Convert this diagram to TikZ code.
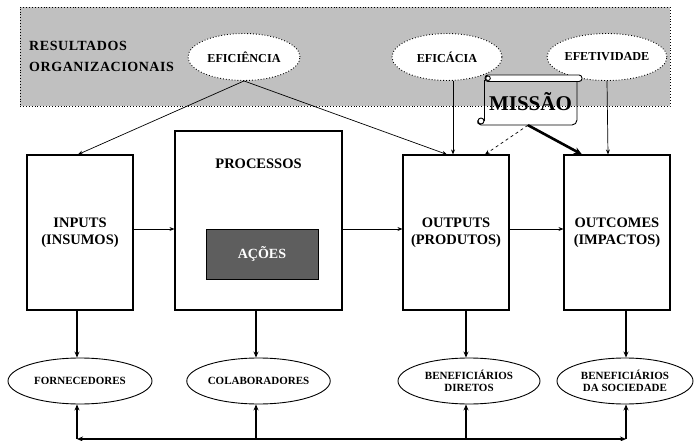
\documentclass[tikz,border=0pt]{standalone}
\usepackage{fontspec}
\setmainfont{Liberation Serif}
\usetikzlibrary{shapes.geometric,arrows.meta,calc}
\definecolor{bandgray}{HTML}{C0C0C0}
\definecolor{actgray}{HTML}{5E5E5E}
\tikzset{
  box/.style={draw, line width=1.1pt, minimum width=106pt, minimum height=155pt, inner sep=0pt, align=center, font=\fontsize{14.5}{16.5}\selectfont\bfseries},
  topell/.style={ellipse, draw, dotted, line width=0.9pt, fill=white, minimum height=47pt, inner sep=0pt, font=\fontsize{12.2}{13}\selectfont\bfseries},
  botell/.style={ellipse, draw, line width=0.9pt, minimum height=46pt, inner sep=0pt, align=center, font=\fontsize{11}{12}\selectfont\bfseries},
  thin/.style={-{Stealth[length=5pt,width=4pt]}, line width=0.7pt},
  med/.style={-{Stealth[length=6pt,width=5pt]}, line width=1.2pt},
}
\begin{document}
\begin{tikzpicture}[x=1pt,y=-1pt]
\useasboundingbox (0,0) rectangle (694,441);
% band
\node[draw, dotted, line width=0.9pt, fill=bandgray, minimum width=650pt, minimum height=99pt, inner sep=0pt] (band) at (345,56.5) {};
\node[anchor=west, align=left, inner sep=0pt, font=\fontsize{14}{21}\selectfont\bfseries\addfontfeature{LetterSpace=4}] (res) at (29,56) {RESULTADOS\\ORGANIZACIONAIS};
\node[topell, minimum width=112pt] (efic) at (244,57) {EFICIÊNCIA};
\node[topell, minimum width=110pt] (efca) at (447,57) {EFICÁCIA};
\node[topell, minimum width=111pt] (efet) at (607,57) {EFETIVIDADE};
% boxes
\node[box] (inputs) at (80,232.5) {INPUTS\\(INSUMOS)};
\node[draw, line width=1.1pt, minimum width=167pt, minimum height=179pt, inner sep=0pt] (proc) at (258.5,220.5) {};
\node[font=\fontsize{14.5}{16.5}\selectfont\bfseries] (proclab) at (258.5,164) {PROCESSOS};
\node[draw, line width=1pt, fill=actgray, text=white, minimum width=112pt, minimum height=50pt, inner sep=0pt, font=\fontsize{14}{15}\selectfont\bfseries] (acoes) at (262,254) {AÇÕES};
\node[box] (outputs) at (456,232.5) {OUTPUTS\\(PRODUTOS)};
\node[box] (outcomes) at (617,232.5) {OUTCOMES\\(IMPACTOS)};
% bottom ellipses
\node[botell, minimum width=144pt] (forn) at (80,381) {FORNECEDORES};
\node[botell, minimum width=143pt] (colab) at (258.5,381) {COLABORADORES};
\node[botell, minimum width=142pt] (bdir) at (469,381) {BENEFICIÁRIOS\\DIRETOS};
\node[botell, minimum width=136pt] (bsoc) at (625,381) {BENEFICIÁRIOS\\DA SOCIEDADE};
% missao scroll
\node[inner sep=0pt, minimum width=93pt, minimum height=47pt, font=\fontsize{21}{23}\selectfont\bfseries] (missao) at (530.5,101.5) {MISSÃO};
\draw[line width=0.9pt] (484,80) -- (484,121);
\draw[line width=0.9pt] (481,125) -- (572,125) arc[start angle=90, end angle=0, radius=5] -- (577,80);
\draw[line width=0.9pt] (484,121) arc[start angle=0, end angle=360, radius=3];
\draw[line width=0.9pt] (481,125) arc[start angle=90, end angle=200, radius=3.5];
\draw[line width=0.9pt, fill=white, rounded corners=3pt] (485,75) rectangle (582,81.5);
\draw[line width=0.9pt] (488,78.25) circle[radius=2.3];
% top connectors
\draw[thin] (efic.south) -- ([xshift=-2pt]inputs.north);
\draw[thin] (efic.south) -- ([xshift=-9pt]outputs.north);
\draw[thin] ([xshift=6pt]efca.south) -- ([xshift=-3pt]outputs.north);
\draw[thin, dashed] ([xshift=-2.5pt]missao.south) -- ([xshift=29pt]outputs.north);
\draw[-{Stealth[length=8pt,width=7pt]}, line width=2.6pt] ([xshift=-2.5pt]missao.south) -- ([xshift=-35pt]outcomes.north);
\draw[thin] (efet.south) -- ([xshift=-9pt]outcomes.north);
% horizontal flow
\draw[thin] (inputs.east |- 0,229) -- (proc.west |- 0,229);
\draw[thin] (proc.east |- 0,229) -- (outputs.west |- 0,229);
\draw[thin] (outputs.east |- 0,229) -- (outcomes.west |- 0,229);
% down to stakeholders
\draw[med] ([xshift=-3pt]inputs.south) -- ([xshift=-3pt]forn.north);
\draw[med] ([xshift=-2.5pt]proc.south) -- ([xshift=-2.5pt]colab.north);
\draw[med] (bdir.north |- outputs.south) ++(-3,0) -- ([xshift=-3pt]bdir.north);
\draw[med] (bsoc.north |- outcomes.south) ++(1,0) -- ([xshift=1pt]bsoc.north);
% bottom bus
\coordinate (busL) at (77,439);
\coordinate (busR) at (626,439);
\draw[{Stealth[length=6pt,width=5pt]}-{Stealth[length=6pt,width=5pt]}, line width=1.5pt] (busL) -- (busR);
\draw[med, line width=1.5pt] (busL) -- (busL |- forn.south);
\draw[med, line width=1.5pt] (busL -| colab.south) ++(-2.5,0) -- ([xshift=-2.5pt]colab.south);
\draw[med, line width=1.5pt] (busL -| bdir.south) ++(-3,0) -- ([xshift=-3pt]bdir.south);
\draw[med, line width=1.5pt] (busR) -- (busR |- bsoc.south);
\end{tikzpicture}
\end{document}
